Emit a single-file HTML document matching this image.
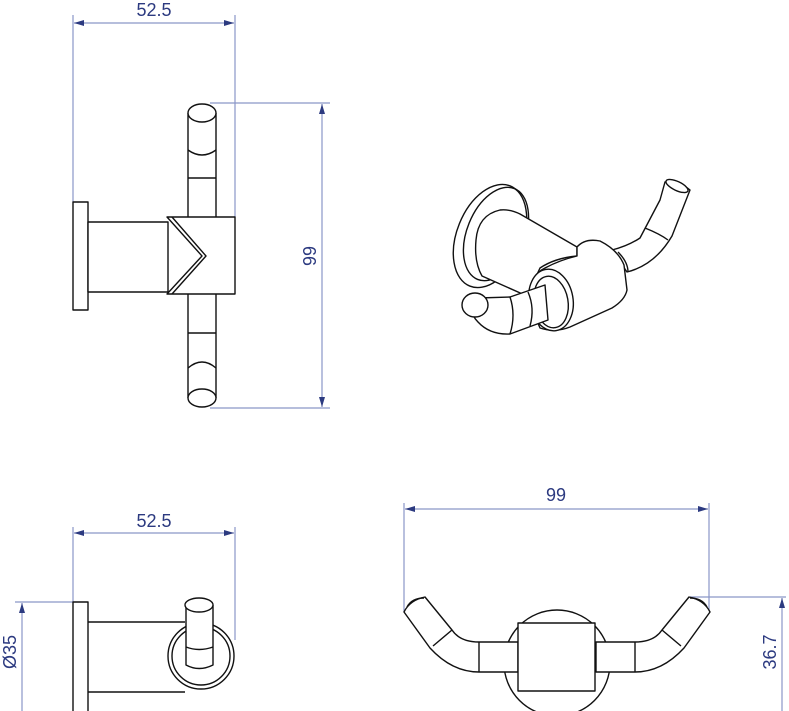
<!DOCTYPE html>
<html><head><style>html,body{margin:0;padding:0;background:#fff;width:789px;height:711px;overflow:hidden}</style></head>
<body>
<svg width="789" height="711" viewBox="0 0 789 711" xmlns="http://www.w3.org/2000/svg" font-family="Liberation Sans, sans-serif">
<defs>
<marker id="a" viewBox="0 0 10 6" refX="10" refY="3" markerWidth="12" markerHeight="6" orient="auto-start-reverse" markerUnits="userSpaceOnUse"><path d="M0,0 L10,3 L0,6 z" fill="#2c3a80"/></marker>
</defs>
<g stroke="#8a96c8" stroke-width="1.2" fill="none">
<line x1="73" y1="15" x2="73" y2="202"/><line x1="235" y1="15" x2="235" y2="217"/>
<line x1="74" y1="23" x2="234" y2="23" marker-start="url(#a)" marker-end="url(#a)"/>
<line x1="210" y1="103" x2="330" y2="103"/><line x1="210" y1="408" x2="330" y2="408"/>
<line x1="322" y1="104" x2="322" y2="407" marker-start="url(#a)" marker-end="url(#a)"/>
<line x1="73" y1="527" x2="73" y2="602"/><line x1="235" y1="527" x2="235" y2="640"/>
<line x1="74" y1="533" x2="234" y2="533" marker-start="url(#a)" marker-end="url(#a)"/>
<line x1="15" y1="602" x2="73" y2="602"/>
<line x1="22" y1="603" x2="22" y2="711" marker-start="url(#a)"/>
<line x1="404" y1="503" x2="404" y2="612"/><line x1="709" y1="503" x2="709" y2="612"/>
<line x1="405" y1="509" x2="708" y2="509" marker-start="url(#a)" marker-end="url(#a)"/>
<line x1="690" y1="597" x2="786" y2="597"/>
<line x1="782" y1="598" x2="782" y2="711" marker-start="url(#a)"/>
</g>
<g fill="#2c3a80" font-size="18">
<text x="154" y="16" text-anchor="middle">52.5</text>
<text x="154" y="527" text-anchor="middle">52.5</text>
<text x="556" y="501" text-anchor="middle">99</text>
<text transform="translate(316,256) rotate(-90)" text-anchor="middle">99</text>
<text transform="translate(16,652) rotate(-90)" text-anchor="middle">Ø35</text>
<text transform="translate(776,652) rotate(-90)" text-anchor="middle">36.7</text>
</g>
<g stroke="#111" stroke-width="1.4" fill="#fff" stroke-linejoin="round">
<rect x="73" y="202" width="15" height="108"/>
<rect x="88" y="222" width="80" height="70"/>
<path d="M188,113 V217 M216,113 V217"/>
<ellipse cx="202" cy="113" rx="14" ry="9"/>
<path d="M188,150 Q202,160 216,150 M188,178 H216" fill="none"/>
<path d="M188,294 V398 M216,294 V398"/>
<ellipse cx="202" cy="398" rx="14" ry="9"/>
<path d="M188,368 Q202,356 216,368 M188,333 H216" fill="none"/>
<path d="M167,217 H235 V294 H167 L202,256 Z"/>
<path d="M172,217 L206,256 L172,294" fill="none"/>
<rect x="73" y="602" width="15" height="115"/>
<path d="M88,622 H185 M88,692 H185"/>
<circle cx="201" cy="656" r="33"/>
<circle cx="201" cy="656" r="29" fill="none"/>
<path d="M186,605 V665 Q199,672 213,665 V605"/>
<ellipse cx="199" cy="605" rx="14" ry="7"/>
<path d="M186,647 Q199,652 213,647" fill="none"/>
<circle cx="557" cy="663" r="53"/>
<path d="M518,642 H479 Q460,642 452,630 L425,597 Q410,600 404,612 L430,648 Q452,672 479,672 H518 Z"/>
<path d="M596,642 H635 Q654,642 662,630 L689,597 Q704,600 710,612 L684,648 Q662,672 635,672 H596 Z"/>
<path d="M479,642 V672 M635,642 V672 M452,630 L433,646 M662,630 L681,646 M407,607 Q412,598 424,598 M707,607 Q702,598 690,598" fill="none"/>
<rect x="518" y="623" width="77" height="68"/>
<!-- perspective view -->
<ellipse cx="490" cy="236" rx="33" ry="54" transform="rotate(22 490 236)"/>
<ellipse cx="496" cy="234" rx="29" ry="49" transform="rotate(22 496 234)" fill="none"/>
<path d="M612,250 Q628,246 640,238 L660,200 L665,182 Q678,180 690,190 L672,236 Q655,265 627,272 Z"/>
<ellipse cx="677" cy="186" rx="12" ry="4.5" transform="rotate(25 677 186)"/>
<path d="M645,228 Q660,234 668,240 M618,252 Q628,262 628,272" fill="none"/>
<path d="M476,240 Q478,215 500,210 Q510,209 520,214 L577,247 L577,256 Q555,258 540,268 L527,296 L482,276 Q474,262 476,240 Z"/>
<path d="M577,247 Q585,238 600,241 Q618,250 624,265 L627,290 Q625,300 612,308 L570,327 Q555,333 540,328 L528,300 Q530,275 545,268 Q560,260 577,256 Z"/>
<ellipse cx="551" cy="300" rx="22" ry="31" transform="rotate(-10 551 300)"/>
<ellipse cx="551" cy="302" rx="17" ry="26" transform="rotate(-10 551 302)" fill="none"/>
<path d="M545,285 L510,297 L478,298 Q466,310 478,322 Q490,335 510,334 L548,320 Z"/>
<ellipse cx="475" cy="305" rx="13" ry="12"/>
<path d="M510,297 Q516,315 510,334 M528,292 Q535,308 530,326" fill="none"/>
</g>
</svg>
</body></html>
